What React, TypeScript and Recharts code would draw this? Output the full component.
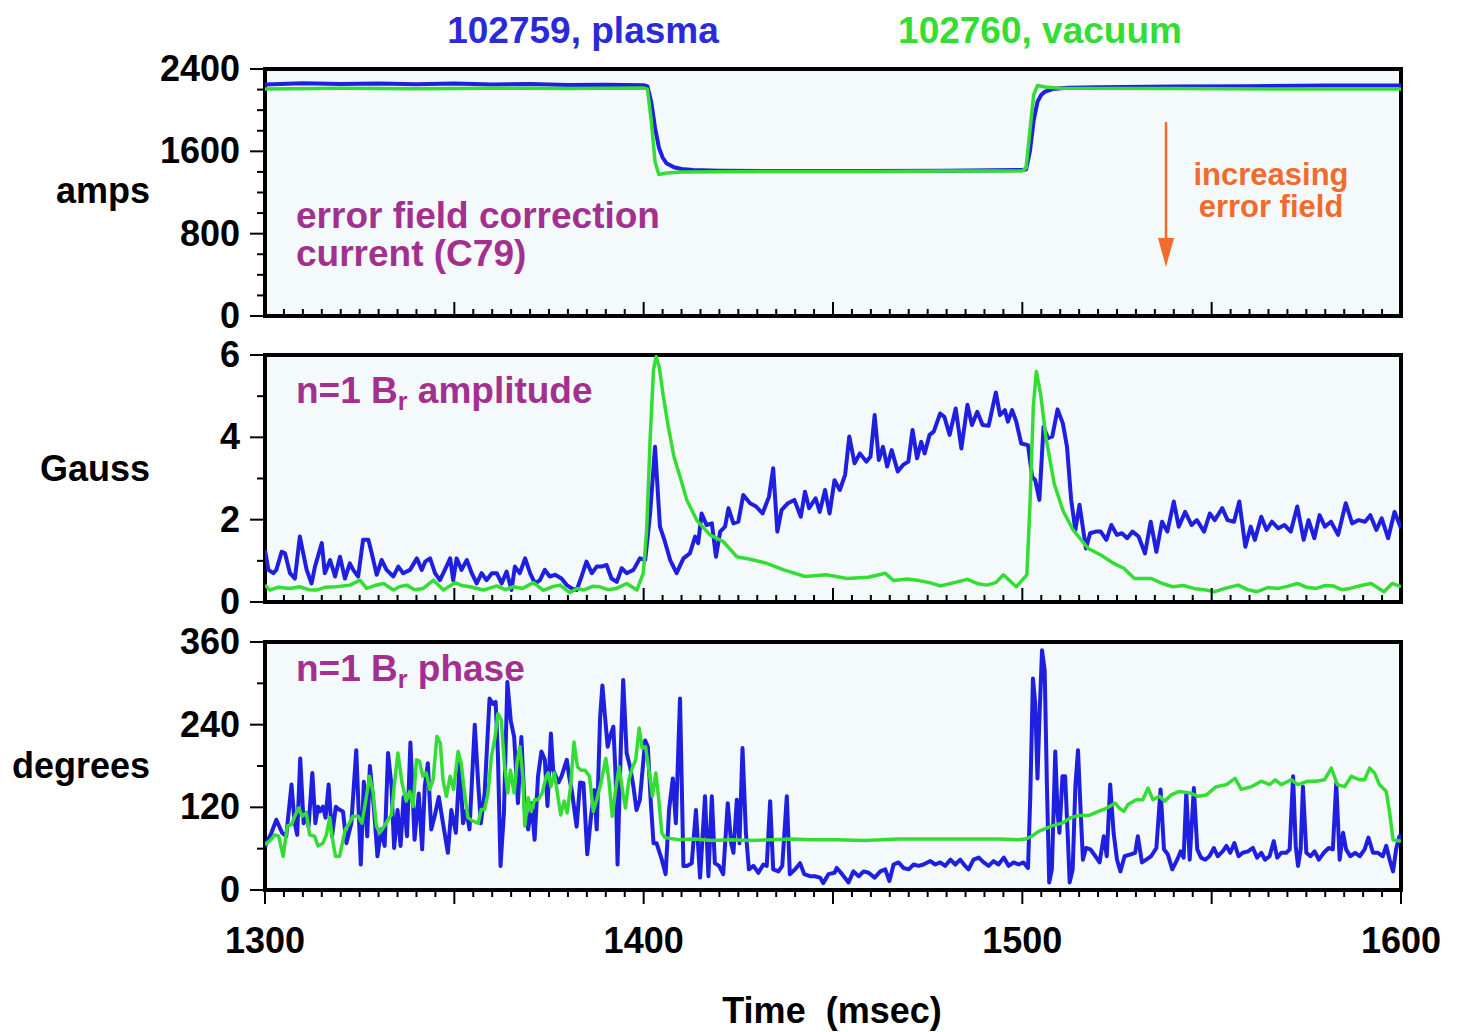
import { CartesianGrid, Line, LineChart, ReferenceArea, XAxis, YAxis } from "recharts"

const W = 1458
const FONT = '"Liberation Sans", Arial, Helvetica, sans-serif'
const BLUE = "#1f1fdf"
const GREEN = "#33dd33"
const BG = "#f4f9fc"
const PURPLE = "#a3308e"
const ORANGE = "#f26a2c"

// [time (msec), value]
const AMPS_PLASMA = [
  [1300, 2250], [1310, 2262], [1320, 2255], [1330, 2260], [1340, 2252], [1350, 2258],
  [1360, 2250], [1370, 2255], [1380, 2245], [1390, 2248], [1400, 2242], [1401, 2230],
  [1402, 2080], [1403, 1830], [1404, 1640], [1405, 1540], [1406, 1485], [1408, 1445],
  [1410, 1428], [1413, 1418], [1420, 1412], [1440, 1408], [1460, 1410], [1480, 1412],
  [1500, 1418], [1501, 1425], [1502, 1600], [1503, 1900], [1504, 2080], [1505, 2150],
  [1506, 2180], [1508, 2205], [1512, 2218], [1520, 2222], [1540, 2230], [1560, 2232],
  [1580, 2240], [1600, 2240],
]
const AMPS_VACUUM = [
  [1300, 2205], [1320, 2212], [1340, 2208], [1360, 2214], [1380, 2210], [1400, 2215],
  [1401, 2205], [1402, 1900], [1403, 1500], [1404, 1375], [1406, 1390], [1410, 1400],
  [1430, 1405], [1460, 1405], [1480, 1408], [1500, 1410], [1501, 1440], [1502, 1800],
  [1503, 2150], [1504, 2240], [1506, 2225], [1510, 2212], [1540, 2210], [1570, 2205],
  [1600, 2205],
]

const GAUSS_PLASMA = [
  [1300, 1.26], [1300.9, 0.78], [1302.2, 0.7], [1303, 0.78], [1304.4, 1.22], [1305.3, 1.18],
  [1306.6, 0.7], [1307.9, 0.57], [1309.2, 1.59], [1310.1, 1.18], [1311, 0.78], [1312.3, 0.45],
  [1313.2, 0.86], [1315, 1.43], [1315.8, 0.7], [1317.2, 1.02], [1318.5, 0.62], [1319.8, 1.1],
  [1321.1, 0.57], [1322.4, 0.94], [1323.3, 0.78], [1324.6, 0.62], [1325.9, 1.51], [1327.3, 1.51],
  [1328.2, 1.18], [1329.5, 0.66], [1330.8, 1.02], [1332.1, 0.78], [1333.9, 0.62], [1335.2, 0.86],
  [1336.5, 0.7], [1338.3, 0.78], [1340.1, 1.06], [1341.4, 0.78], [1342.3, 0.98], [1343.6, 1.06],
  [1344.9, 0.7], [1346.2, 0.53], [1347.5, 0.78], [1348.9, 1.06], [1349.7, 0.53], [1350.6, 1.06],
  [1351.9, 0.78], [1353.3, 1.02], [1354.6, 0.7], [1355.9, 0.45], [1357.2, 0.7], [1358.5, 0.53],
  [1359.9, 0.7], [1361.2, 0.7], [1362.5, 0.45], [1363.8, 0.74], [1365.1, 0.29], [1366, 0.86],
  [1367.3, 0.7], [1368.7, 1.06], [1370, 0.7], [1371.3, 0.45], [1372.6, 0.53], [1373.9, 0.78],
  [1375.2, 0.62], [1376.6, 0.66], [1378.3, 0.57], [1379.7, 0.41], [1381, 0.33], [1382.3, 0.29],
  [1383.6, 0.62], [1384.9, 0.98], [1386.3, 0.7], [1387.6, 0.86], [1388.9, 0.86], [1390.2, 0.9],
  [1391.5, 0.57], [1392.9, 0.49], [1394.2, 0.82], [1395.5, 0.7], [1397.3, 0.78], [1399, 1.06],
  [1400.4, 1.02], [1401.7, 2.15], [1403, 3.77], [1404.3, 1.83], [1405.6, 1.47], [1407, 1.02],
  [1408.7, 0.7], [1410.5, 1.06], [1412.2, 1.18], [1413.6, 1.59], [1414.4, 1.43], [1415.3, 2.15],
  [1416.6, 1.87], [1418, 1.91], [1419.1, 1.1], [1420.2, 1.71], [1421.5, 1.83], [1422.4, 2.28],
  [1423.7, 1.91], [1425, 1.95], [1426.3, 2.6], [1428.1, 2.4], [1429.7, 2.32], [1431.4, 2.15],
  [1433.1, 2.56], [1434.2, 3.25], [1435.3, 1.71], [1436.4, 2.23], [1438.1, 2.4], [1439.8, 2.48],
  [1441.5, 2.07], [1442.6, 2.68], [1443.7, 2.28], [1445.4, 2.52], [1446.5, 2.19], [1447.9, 2.72],
  [1449.1, 2.15], [1450.4, 2.96], [1451.8, 2.72], [1453.2, 3.09], [1454.3, 4.02], [1455.7, 3.37],
  [1457.1, 3.61], [1458.8, 3.41], [1459.9, 3.53], [1461, 4.54], [1462.1, 3.45], [1463.2, 3.77],
  [1464.3, 3.29], [1465.5, 3.69], [1467.1, 3.17], [1468.5, 3.33], [1469.9, 3.41], [1471, 4.18],
  [1472.2, 3.49], [1473.3, 3.89], [1474.2, 3.61], [1475.5, 4.06], [1476.6, 4.14], [1478.3, 4.58],
  [1479.4, 4.5], [1480.8, 4.06], [1482.4, 4.7], [1483.9, 3.73], [1485.5, 4.79], [1486.7, 4.3],
  [1488.1, 4.62], [1489.5, 4.3], [1491.1, 4.28], [1493, 5.09], [1494.1, 4.54], [1495.4, 4.66],
  [1496.2, 4.38], [1497.3, 4.66], [1498.4, 4.38], [1499.7, 3.85], [1501.5, 3.81], [1502.6, 3.04],
  [1503.4, 2.96], [1504.5, 2.48], [1505.6, 4.26], [1506.8, 3.98], [1507.9, 4.02], [1509.3, 4.68],
  [1510.7, 4.34], [1511.8, 3.77], [1512.9, 2.48], [1514, 1.75], [1515.1, 2.36], [1516.8, 1.3],
  [1517.9, 1.67], [1519.4, 1.71], [1520.7, 1.71], [1522.2, 1.51], [1523.5, 1.87], [1525, 1.63],
  [1526.3, 1.67], [1527.7, 1.55], [1529.1, 1.71], [1530.7, 1.59], [1532.4, 1.18], [1533.9, 1.95],
  [1535.4, 1.22], [1536.9, 1.95], [1538.3, 1.71], [1540, 2.44], [1541.3, 1.83], [1543, 2.19],
  [1544.7, 1.87], [1546.1, 1.99], [1548, 1.71], [1549.5, 2.15], [1550.8, 1.99], [1552.8, 2.28],
  [1554.2, 1.99], [1555.9, 1.95], [1557.3, 2.44], [1558.9, 1.34], [1560.3, 1.83], [1561.4, 1.51],
  [1563.1, 2.07], [1564.5, 1.75], [1565.9, 1.95], [1567.6, 1.79], [1569.2, 1.87], [1570.9, 1.71],
  [1572.6, 2.32], [1574.3, 1.51], [1575.6, 1.99], [1577.1, 1.55], [1578.5, 2.11], [1579.9, 1.83],
  [1581.5, 1.95], [1583.4, 1.63], [1585.4, 2.4], [1587.1, 1.91], [1588.8, 1.99], [1590.5, 1.95],
  [1591.9, 2.11], [1593.5, 1.75], [1594.9, 2.03], [1596.6, 1.55], [1598.3, 2.19], [1600, 1.79],
]
const GAUSS_VACUUM = [
  [1300, 0.41], [1301.3, 0.29], [1303.5, 0.36], [1306.6, 0.33], [1309.2, 0.37], [1311.5, 0.3],
  [1313.6, 0.29], [1316, 0.36], [1318.9, 0.37], [1322.4, 0.41], [1325.1, 0.53], [1326.8, 0.33],
  [1329, 0.4], [1331.3, 0.45], [1333.9, 0.29], [1335.5, 0.37], [1337.4, 0.41], [1339.5, 0.3],
  [1341.8, 0.33], [1344.5, 0.53], [1347.1, 0.29], [1350.2, 0.47], [1352, 0.4], [1354.1, 0.37],
  [1357.7, 0.29], [1361.2, 0.39], [1363.5, 0.3], [1365.6, 0.37], [1368, 0.33], [1370.9, 0.47],
  [1373.5, 0.28], [1375.8, 0.37], [1377.9, 0.41], [1380.5, 0.23], [1382.5, 0.33], [1384.1, 0.29],
  [1386.5, 0.38], [1388.5, 0.37], [1390.5, 0.3], [1392.9, 0.33], [1395.5, 0.45], [1398.2, 0.29],
  [1399.9, 0.7], [1400.8, 1.75], [1401.7, 3.94], [1402.6, 5.64], [1403.3, 5.96], [1404.1, 5.72],
  [1405.2, 4.99], [1406.5, 4.26], [1408, 3.53], [1409.6, 3.04], [1411.4, 2.48], [1414, 1.99],
  [1417.5, 1.63], [1421, 1.47], [1424.6, 1.1], [1428.1, 1.04], [1432.5, 0.94], [1437, 0.78],
  [1442.6, 0.62], [1448.2, 0.66], [1453.7, 0.57], [1459.3, 0.6], [1463.8, 0.7], [1466, 0.52],
  [1469.5, 0.56], [1472.7, 0.52], [1475.5, 0.47], [1478.3, 0.39], [1482, 0.47], [1485.5, 0.55],
  [1488, 0.45], [1490.6, 0.41], [1493, 0.47], [1495, 0.66], [1498.4, 0.37], [1501.2, 0.66],
  [1502, 2.32], [1502.9, 4.74], [1503.7, 5.6], [1504.8, 5.07], [1506.2, 4.02], [1508.4, 2.88],
  [1510.7, 2.23], [1513.4, 1.75], [1517.4, 1.3], [1520.7, 1.14], [1524.1, 0.94], [1526.8, 0.82],
  [1529.6, 0.57], [1534.1, 0.57], [1537, 0.45], [1539.7, 0.37], [1542.5, 0.4], [1545.3, 0.33],
  [1548, 0.3], [1550.8, 0.25], [1553.5, 0.33], [1557, 0.41], [1559.5, 0.3], [1562, 0.25],
  [1564.8, 0.35], [1567.6, 0.33], [1570, 0.38], [1572.6, 0.45], [1575, 0.36], [1577.6, 0.33],
  [1580, 0.4], [1582.1, 0.39], [1584.3, 0.3], [1586.5, 0.33], [1589.5, 0.4], [1592.1, 0.45],
  [1595.5, 0.25], [1597.7, 0.45], [1600, 0.37],
]

const DEG_PLASMA = [
  [1300, 63], [1301.7, 83], [1303, 102], [1304.5, 83], [1305.6, 78], [1307, 153], [1307.8, 99],
  [1308.5, 80], [1309.3, 191], [1310.2, 97], [1310.9, 112], [1311.5, 92], [1312.5, 170],
  [1313.3, 97], [1314, 121], [1314.5, 114], [1315.3, 121], [1316, 105], [1316.8, 153], [1317.7, 78],
  [1318.7, 121], [1319.5, 117], [1320.6, 114], [1321.5, 68], [1322.8, 97], [1324.1, 203],
  [1325.3, 37], [1326.1, 157], [1327, 78], [1327.7, 180], [1328.8, 116], [1329.7, 49], [1330.7, 88],
  [1331.6, 64], [1332.5, 199], [1333.4, 151], [1334.1, 61], [1335, 116], [1335.8, 64], [1336.6, 135],
  [1337.5, 78], [1338.4, 214], [1339.5, 73], [1340.6, 140], [1341.5, 59], [1342.2, 151], [1343, 184],
  [1343.9, 88], [1344.8, 107], [1345.9, 135], [1347, 97], [1348.3, 54], [1349.2, 116], [1350.4, 83],
  [1351.4, 184], [1352.3, 97], [1353.2, 116], [1354, 88], [1355.4, 240], [1356.3, 155], [1357, 97],
  [1358, 140], [1359.3, 278], [1360.2, 270], [1360.9, 273], [1361.5, 198], [1362.2, 35], [1363.1, 112],
  [1364, 302], [1364.9, 246], [1365.8, 222], [1366.8, 126], [1367.7, 222], [1368.6, 116], [1369.5, 88],
  [1370.4, 126], [1371.2, 73], [1372.1, 165], [1373, 201], [1373.9, 189], [1374.6, 122], [1375.5, 227],
  [1376.1, 174], [1377.5, 156], [1378.3, 165], [1379.7, 189], [1380.3, 165], [1381, 145], [1382.3, 92],
  [1383.2, 156], [1384.1, 155], [1385.1, 52], [1386.1, 107], [1387, 145], [1387.6, 88], [1388.5, 251],
  [1389.1, 297], [1389.8, 251], [1390.5, 208], [1391.1, 222], [1392, 237], [1392.6, 165], [1393.1, 37],
  [1394, 213], [1394.6, 305], [1395.5, 199], [1396.4, 179], [1397.3, 150], [1398.1, 116], [1399, 131],
  [1400.4, 217], [1401.1, 208], [1401.9, 126], [1402.6, 68], [1403.4, 68], [1404.8, 44], [1405.8, 23],
  [1406.7, 116], [1407.7, 162], [1408.5, 97], [1409.6, 278], [1410.5, 35], [1411.4, 35], [1412.7, 39],
  [1413.8, 116], [1414.9, 18], [1416.2, 136], [1417.1, 20], [1418, 136], [1418.8, 39], [1419.9, 35],
  [1421, 23], [1422.2, 126], [1423.1, 68], [1423.7, 54], [1424.6, 131], [1425.3, 68], [1426.1, 206],
  [1427, 83], [1427.8, 30], [1429, 35], [1430.3, 25], [1431.6, 37], [1432.5, 35], [1433.4, 129],
  [1434.2, 30], [1435.6, 27], [1436.6, 35], [1437.8, 136], [1438.6, 23], [1440, 30], [1441.3, 39],
  [1442.4, 23], [1443.9, 20], [1445.2, 20], [1446.6, 18], [1447.4, 10], [1448.8, 23], [1450.4, 25],
  [1451, 32], [1452.4, 23], [1454.1, 11], [1455.4, 27], [1456.8, 20], [1458.1, 27], [1459.4, 25],
  [1461, 18], [1462.5, 27], [1463.8, 30], [1464.9, 13], [1466, 37], [1467.3, 40], [1468.6, 32],
  [1470, 30], [1471.3, 37], [1472.6, 35], [1473.9, 37], [1475.7, 42], [1477, 37], [1478.3, 40],
  [1479.6, 35], [1481, 44], [1482.3, 37], [1483.6, 44], [1484.9, 35], [1485.8, 30], [1487.1, 44],
  [1488.5, 47], [1489.8, 40], [1491.1, 35], [1492.4, 42], [1493.7, 37], [1495.1, 47], [1496.4, 35],
  [1497.7, 40], [1499, 37], [1500.3, 40], [1501.5, 32], [1502.1, 136], [1502.8, 307], [1503.4, 271],
  [1504, 162], [1504.5, 247], [1505.2, 348], [1505.9, 319], [1506.5, 150], [1507.1, 11], [1507.8, 30],
  [1508.7, 201], [1509.3, 112], [1509.8, 83], [1510.6, 165], [1511.3, 165], [1512, 78], [1512.5, 11],
  [1513.3, 30], [1514, 150], [1514.7, 203], [1515.3, 126], [1516, 44], [1516.8, 61], [1518, 59],
  [1519.3, 49], [1520.4, 40], [1521.5, 78], [1522.3, 49], [1523.2, 153], [1524.1, 83], [1525, 44],
  [1525.9, 27], [1527, 49], [1528.8, 52], [1529.8, 54], [1530.5, 78], [1531.6, 40], [1532.7, 44],
  [1534, 49], [1535.4, 61], [1536.5, 146], [1537.4, 59], [1538.4, 52], [1539.6, 30], [1540.9, 44],
  [1541.8, 56], [1542.6, 47], [1543.3, 141], [1544.2, 44], [1545.3, 148], [1546.2, 59], [1547.2, 47],
  [1548.3, 44], [1549.4, 49], [1550.6, 61], [1551.6, 49], [1552.9, 56], [1553.9, 64], [1554.9, 54],
  [1556, 68], [1557.1, 49], [1558.2, 54], [1559.6, 56], [1560.9, 61], [1562, 47], [1563.1, 54],
  [1564.1, 44], [1565.3, 49], [1566.4, 71], [1567.3, 47], [1568.4, 54], [1569.7, 54], [1570.6, 59],
  [1571.5, 165], [1572.2, 64], [1572.8, 35], [1573.5, 59], [1574.1, 150], [1575, 54], [1576.1, 49],
  [1577.2, 56], [1578.3, 44], [1579.6, 54], [1580.9, 61], [1582, 59], [1582.9, 155], [1583.8, 44],
  [1584.7, 83], [1585.5, 59], [1586.6, 49], [1587.9, 54], [1589.1, 49], [1590.4, 59], [1591.4, 76],
  [1592.6, 54], [1593.9, 54], [1595.2, 49], [1596.1, 64], [1597, 44], [1597.9, 27], [1598.7, 59],
  [1599.6, 78], [1600, 80],
]
const DEG_VACUUM = [
  [1300, 66], [1301.2, 71], [1302.6, 80], [1303.6, 78], [1304.8, 49], [1305.9, 93], [1307, 95],
  [1308, 109], [1308.9, 119], [1309.8, 107], [1310.9, 112], [1311.8, 80], [1313.1, 78], [1314, 64],
  [1315.3, 68], [1316.2, 80], [1317.1, 105], [1317.7, 78], [1318.6, 49], [1319.7, 49], [1321.2, 88],
  [1322.1, 95], [1323.2, 107], [1324.6, 107], [1325.6, 97], [1326.8, 136], [1327.6, 165], [1328.5, 143],
  [1329.4, 93], [1330.3, 83], [1331.2, 90], [1332.5, 102], [1333.4, 109], [1334.2, 155], [1335.1, 199],
  [1336.2, 155], [1337.3, 129], [1338.2, 143], [1339.1, 121], [1340, 189], [1340.8, 187], [1341.7, 165],
  [1342.6, 170], [1343.5, 146], [1344.4, 160], [1345.4, 223], [1346.3, 213], [1347, 160], [1347.9, 136],
  [1348.9, 165], [1349.8, 146], [1351, 201], [1351.8, 184], [1352.7, 141], [1353.6, 105], [1354.9, 100],
  [1356.3, 97], [1357.1, 117], [1358, 117], [1358.9, 141], [1359.8, 194], [1360.8, 223], [1361.5, 256],
  [1362.4, 247], [1363.2, 184], [1364.1, 141], [1364.8, 174], [1365.8, 141], [1366.6, 187], [1367.3, 208],
  [1368.1, 165], [1368.6, 93], [1369.5, 134], [1370.3, 114], [1371.2, 131], [1372.1, 131], [1373.2, 141],
  [1374.3, 165], [1374.8, 170], [1375.5, 150], [1376.4, 170], [1377.2, 141], [1378.1, 109], [1379, 129],
  [1379.8, 112], [1380.7, 150], [1381.6, 215], [1382.5, 179], [1383.4, 174], [1384.5, 174], [1385.7, 165],
  [1386.7, 114], [1387.6, 131], [1388.7, 155], [1390, 191], [1390.8, 160], [1391.7, 107], [1392.6, 146],
  [1393.5, 179], [1394.6, 138], [1395.2, 119], [1396.1, 160], [1397, 177], [1397.9, 189], [1398.8, 235],
  [1399.6, 206], [1400.5, 208], [1401.4, 174], [1402.3, 136], [1403.2, 170], [1403.9, 136], [1404.8, 83],
  [1405.6, 76], [1409.2, 73], [1413.5, 74], [1418, 72], [1423.2, 73], [1428.5, 72], [1433.8, 73],
  [1439.1, 74], [1444.4, 73], [1451, 73], [1458.5, 72], [1467.3, 74], [1476.1, 74], [1484.9, 74],
  [1493.7, 74], [1499, 73], [1500.8, 74], [1502.5, 78], [1504.3, 85], [1506.1, 89], [1507.8, 93],
  [1510.5, 97], [1512.7, 105], [1514.9, 108], [1517.5, 108], [1520.1, 114], [1522.3, 119], [1524.5, 126],
  [1525.6, 119], [1526.8, 114], [1527.9, 124], [1530.1, 131], [1531.8, 131], [1533.2, 148], [1534.5, 131],
  [1536.2, 136], [1537.6, 129], [1539.3, 138], [1541.5, 143], [1544.2, 141], [1546.4, 136], [1548.6, 138],
  [1551.2, 150], [1553.9, 153], [1556.2, 162], [1557.8, 146], [1560.5, 150], [1563.1, 158], [1565.3, 153],
  [1566.8, 160], [1568.4, 153], [1571, 160], [1572.8, 153], [1575.4, 158], [1577.6, 158], [1579.8, 160],
  [1581.6, 177], [1583.2, 153], [1585.1, 150], [1586.9, 165], [1589.1, 160], [1590.4, 160], [1591.7, 177],
  [1593, 170], [1594.3, 153], [1596.1, 143], [1597, 112], [1597.9, 73], [1599.6, 71], [1600, 72],
]

const X_TICKS: number[] = []
for (let t = 1300; t <= 1600; t += 5) X_TICKS.push(t)

const rows = (pts: number[][]) => pts.map(([t, v]) => ({ t, v }))

function XTick({ x, y, payload, outward }: any) {
  const v = payload.value
  const len = v % 50 === 0 ? 14 : 7
  const dir = outward ? 1 : -1
  return (
    <g>
      <line x1={x} x2={x} y1={y} y2={y + dir * len} stroke="#000" strokeWidth={2} />
      {outward && v % 100 === 0 && (
        <text x={x} y={y + 63} textAnchor="middle" fontFamily={FONT} fontWeight="bold" fontSize={36} fill="#000">
          {v}
        </text>
      )}
    </g>
  )
}

function YTick({ x, y, payload, labelStep }: any) {
  const v = payload.value
  const major = v % labelStep === 0
  return (
    <g>
      <line x1={x} x2={x - (major ? 15 : 8)} y1={y} y2={y} stroke="#000" strokeWidth={2} />
      {major && (
        <text x={x - 25} y={y + 12} textAnchor="end" fontFamily={FONT} fontWeight="bold" fontSize={36} fill="#000">
          {v}
        </text>
      )}
    </g>
  )
}

function Panel({ top, height, marginTop, marginBottom, axisHeight, yMax, yStep, labelStep, plasma, vacuum, outward }: any) {
  const yTicks: number[] = []
  for (let v = 0; v <= yMax; v += yStep) yTicks.push(v)
  return (
    <div style={{ position: "absolute", left: 0, top, width: W, height }}>
      <LineChart width={W} height={height} margin={{ top: marginTop, right: 57, bottom: marginBottom, left: 165 }}>
        <CartesianGrid horizontal={false} vertical={false} fill={BG} />
        <XAxis
          type="number"
          dataKey="t"
          domain={[1300, 1600]}
          ticks={X_TICKS}
          interval={0}
          height={axisHeight}
          axisLine={false}
          tickLine={false}
          tickSize={0}
          tickMargin={0}
          allowDataOverflow
          tick={(p: any) => <XTick {...p} outward={outward} />}
        />
        <YAxis
          type="number"
          domain={[0, yMax]}
          ticks={yTicks}
          interval={0}
          width={100}
          axisLine={false}
          tickLine={false}
          tickSize={0}
          tickMargin={0}
          allowDataOverflow
          tick={(p: any) => <YTick {...p} labelStep={labelStep} />}
        />
        <Line data={rows(plasma)} dataKey="v" type="linear" stroke={BLUE} strokeWidth={4} dot={false} strokeLinejoin="round" isAnimationActive={false} />
        <Line data={rows(vacuum)} dataKey="v" type="linear" stroke={GREEN} strokeWidth={3.5} dot={false} strokeLinejoin="round" isAnimationActive={false} />
        <ReferenceArea x1={1300} x2={1600} y1={0} y2={yMax} fill="none" stroke="#000" strokeWidth={4} />
      </LineChart>
    </div>
  )
}

const txt = { fontFamily: FONT, fontWeight: "bold" as const }

export default function App() {
  return (
    <div style={{ position: "absolute", left: 0, top: 0, width: W, height: 1032, background: "#fff" }}>
      <Panel top={0} height={340} marginTop={69} marginBottom={23} axisHeight={1} yMax={2400} yStep={200} labelStep={800} plasma={AMPS_PLASMA} vacuum={AMPS_VACUUM} outward={false} />
      <Panel top={320} height={310} marginTop={35} marginBottom={27} axisHeight={1} yMax={6} yStep={1} labelStep={2} plasma={GAUSS_PLASMA} vacuum={GAUSS_VACUUM} outward={false} />
      <Panel top={600} height={432} marginTop={42} marginBottom={72} axisHeight={70} yMax={360} yStep={60} labelStep={120} plasma={DEG_PLASMA} vacuum={DEG_VACUUM} outward={true} />
      <svg width={W} height={1032} style={{ position: "absolute", left: 0, top: 0, pointerEvents: "none" }}>
        <text x={583} y={43} textAnchor="middle" fontSize={37} fill="#2a2ad8" {...txt}>102759, plasma</text>
        <text x={1040} y={43} textAnchor="middle" fontSize={37} fill={GREEN} {...txt}>102760, vacuum</text>

        <text x={150} y={203} textAnchor="end" fontSize={36} fill="#000" {...txt}>amps</text>
        <text x={150} y={481} textAnchor="end" fontSize={36} fill="#000" {...txt}>Gauss</text>
        <text x={150} y={778} textAnchor="end" fontSize={36} fill="#000" {...txt}>degrees</text>

        <text x={296} y={228} fontSize={37} fill={PURPLE} {...txt}>error field correction</text>
        <text x={296} y={266} fontSize={37} fill={PURPLE} {...txt}>current (C79)</text>
        <text x={296} y={403} fontSize={37} fill={PURPLE} {...txt}>
          n=1 B<tspan fontSize={25} dy={7}>r</tspan>
          <tspan fontSize={37} dy={-7}> amplitude</tspan>
        </text>
        <text x={296} y={681} fontSize={37} fill={PURPLE} {...txt}>
          n=1 B<tspan fontSize={25} dy={7}>r</tspan>
          <tspan fontSize={37} dy={-7}> phase</tspan>
        </text>

        <text x={1271} y={185} textAnchor="middle" fontSize={31} fill={ORANGE} {...txt}>increasing</text>
        <text x={1271} y={217} textAnchor="middle" fontSize={31} fill={ORANGE} {...txt}>error field</text>
        <line x1={1166} y1={122} x2={1166} y2={242} stroke={ORANGE} strokeWidth={2.5} />
        <polygon points="1158,238 1174,238 1166,267" fill={ORANGE} />

        <text x={832} y={1023} textAnchor="middle" fontSize={36} fill="#000" style={{ whiteSpace: "pre" }} {...txt}>
          Time  (msec)
        </text>
      </svg>
    </div>
  )
}
